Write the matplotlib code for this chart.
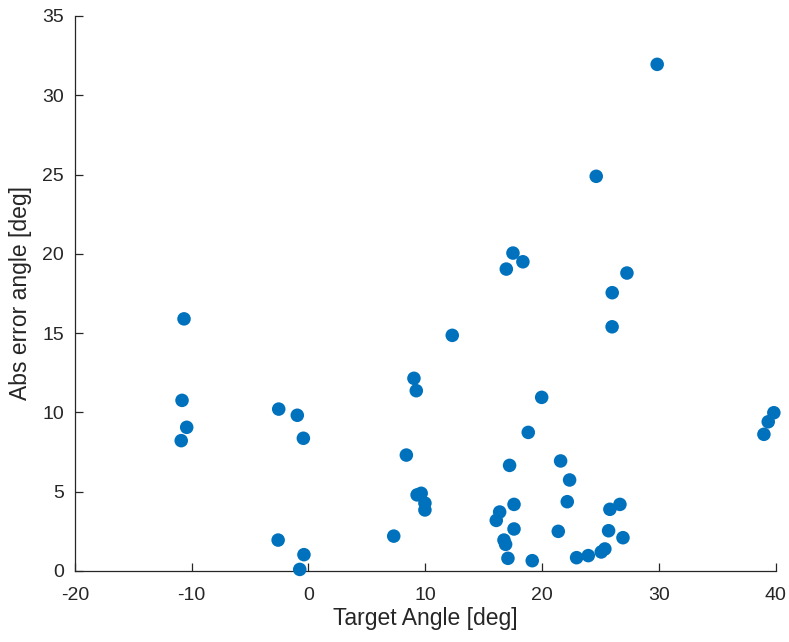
import matplotlib
matplotlib.use("Agg")
import matplotlib.pyplot as plt

# Target angle and absolute angular error for each trial
target_angle = [
    29.86, 24.64, 17.51, 18.36, 16.94, 27.27, 26.01, 26.00, -10.66, 12.31,
    -10.83, -10.43, -10.90, -2.55, -0.96, -0.44, 9.03, 9.23, 8.38,
    9.30, 9.65, 9.97, 9.97, 7.30, -2.60, -0.39, -0.75,
    19.97, 18.82, 39.85, 39.37, 39.00, 21.59, 17.22, 22.36, 17.60, 22.16,
    26.67, 25.81, 16.37, 16.08, 17.60, 21.39, 25.70, 26.93, 16.74, 16.88,
    17.08, 19.16, 22.96, 23.96, 25.07, 25.38,
]
abs_error = [
    31.95, 24.89, 20.05, 19.50, 19.04, 18.79, 17.55, 15.40, 15.90, 14.86,
    10.76, 9.06, 8.22, 10.21, 9.82, 8.37, 12.15, 11.37, 7.31,
    4.80, 4.90, 4.28, 3.85, 2.20, 1.95, 1.03, 0.10,
    10.95, 8.74, 9.98, 9.41, 8.62, 6.94, 6.66, 5.74, 4.20, 4.37,
    4.20, 3.89, 3.72, 3.19, 2.65, 2.50, 2.54, 2.10, 1.95, 1.68,
    0.80, 0.65, 0.84, 0.97, 1.20, 1.39,
]

x_ticks = [-20, -10, 0, 10, 20, 30, 40]
y_ticks = [0, 5, 10, 15, 20, 25, 30, 35]

plt.rcParams['font.family'] = ['Liberation Sans', 'DejaVu Sans']
plt.rcParams['axes.unicode_minus'] = False

fig = plt.figure(figsize=(7.89, 6.42), dpi=100)
ax = fig.add_axes([0.095, 0.1106, 0.888, 0.8645])

ax.scatter(target_angle, abs_error, s=95, color='#0072BD', edgecolors='none',
           zorder=3, clip_on=False)

ax.set_xlim(-20, 40)
ax.set_ylim(0, 35)
ax.set_xticks(x_ticks)
ax.set_yticks(y_ticks)

for side in ('top', 'right'):
    ax.spines[side].set_visible(False)
for side in ('left', 'bottom'):
    ax.spines[side].set_color('#262626')
    ax.spines[side].set_linewidth(0.9)

ax.tick_params(direction='in', length=6, width=0.9, color='#262626',
               labelcolor='#262626', labelsize=14)
ax.tick_params(axis='x', pad=11.5)
ax.tick_params(axis='y', pad=8)

ax.set_xlabel('Target Angle [deg]', fontsize=16.5, color='#262626', labelpad=2)
ax.set_ylabel('Abs error angle [deg]', fontsize=16.5, color='#262626', labelpad=7)

fig.savefig('out.png', dpi=100)
